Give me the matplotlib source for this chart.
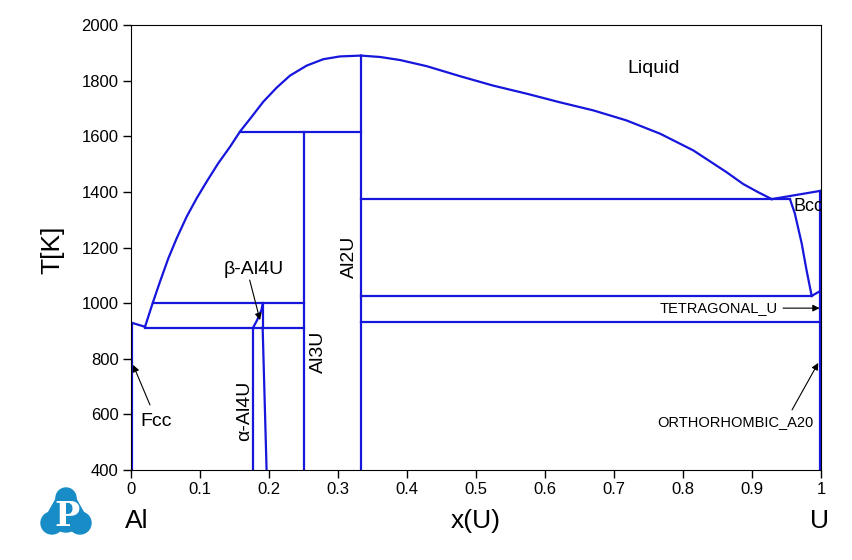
import matplotlib
matplotlib.use('Agg')
import matplotlib.pyplot as plt
from matplotlib.patches import Circle, Polygon

plt.rcParams['font.family'] = ['Liberation Sans', 'DejaVu Sans']

# 液相线 (Al 侧, 到 Al2U 熔点)
liq_left_x = [0.0203, 0.0314, 0.0420, 0.0541, 0.0662, 0.0807, 0.0952, 0.1097, 0.1265, 0.1435,
              0.158, 0.1749, 0.1917, 0.2112, 0.2304, 0.2546, 0.2787, 0.3029, 0.3333]
liq_left_T = [915, 1000, 1077, 1161, 1233, 1311, 1377, 1437, 1503, 1562,
              1617, 1670, 1724, 1775, 1818, 1854, 1877, 1887, 1890]
# 液相线 (U 侧)
liq_right_x = [0.3333, 0.361, 0.390, 0.4285, 0.4768, 0.525, 0.5735, 0.6217, 0.670, 0.718,
               0.767, 0.815, 0.863, 0.8874, 0.908, 0.9286]
liq_right_T = [1890, 1885, 1874, 1852, 1816, 1782, 1753, 1722, 1693, 1657,
               1609, 1549, 1471, 1428, 1400, 1374]
# Bcc 液相线 / 固相线
bcc_liq_x = [0.9286, 1.0]
bcc_liq_T = [1374, 1404]
bcc_sol_x = [0.955, 0.962, 0.972, 0.979, 0.9865]
bcc_sol_T = [1374, 1323, 1215, 1119, 1026]
# Fcc 端
fcc_liq_x = [0.0, 0.0203]
fcc_liq_T = [930, 915]
# β-Al4U 边界
beta_x = [0.177, 0.183, 0.189, 0.191]
beta_T = [912, 940, 975, 1000]
tet_x = [0.9865, 1.0]
tet_T = [1026, 1045]

# 水平线: (x起点, x终点, 温度)
horiz = [
    (0.158, 0.3333, 1617),
    (0.3333, 0.955, 1374),
    (0.0314, 0.25, 1000),
    (0.0203, 0.25, 912),
    (0.3333, 0.9865, 1026),
    (0.3333, 1.0, 932),
]
# 竖线: (x下端, x上端, T下端, T上端)
vert = [
    (0.001, 0.001, 400, 930),
    (0.177, 0.177, 400, 912),
    (0.1965, 0.1908, 400, 912),
    (0.1908, 0.1908, 912, 1000),
    (0.25, 0.25, 400, 1617),
    (0.3333, 0.3333, 400, 1890),
    (0.999, 0.999, 400, 1404),
]

xticks = [0, 0.1, 0.2, 0.3, 0.4, 0.5, 0.6, 0.7, 0.8, 0.9, 1]
xtick_labels = ['0', '0.1', '0.2', '0.3', '0.4', '0.5', '0.6', '0.7', '0.8', '0.9', '1']
yticks = [400, 600, 800, 1000, 1200, 1400, 1600, 1800, 2000]

line_color = '#1616dc'
lw = 1.6

fig = plt.figure(figsize=(8.52, 5.6), dpi=100)
ax = fig.add_axes([131 / 852, 90 / 560, 690 / 852, 445 / 560])

ax.plot(liq_left_x, liq_left_T, color=line_color, lw=lw)
ax.plot(liq_right_x, liq_right_T, color=line_color, lw=lw)
ax.plot(bcc_liq_x, bcc_liq_T, color=line_color, lw=lw)
ax.plot(bcc_sol_x, bcc_sol_T, color=line_color, lw=lw)
ax.plot(fcc_liq_x, fcc_liq_T, color=line_color, lw=lw)
ax.plot(beta_x, beta_T, color=line_color, lw=lw)
ax.plot(tet_x, tet_T, color=line_color, lw=lw)
for x0, x1, t in horiz:
    ax.plot([x0, x1], [t, t], color=line_color, lw=lw)
for x0, x1, t0, t1 in vert:
    ax.plot([x0, x1], [t0, t1], color=line_color, lw=lw)

ax.set_xlim(0, 1)
ax.set_ylim(400, 2000)
ax.set_xticks(xticks)
ax.set_xticklabels(xtick_labels)
ax.set_yticks(yticks)
ax.tick_params(direction='out', length=6, width=1, labelsize=12, pad=3)

# 相区标注
ax.text(0.757, 1845, 'Liquid', fontsize=14, ha='center', va='center')
ax.text(0.96, 1349, 'Bcc', fontsize=13, ha='left', va='center', clip_on=True)
ax.text(0.271, 824, 'Al3U', fontsize=14, ha='center', va='center', rotation=90)
ax.text(0.317, 1166, 'Al2U', fontsize=14, ha='center', va='center', rotation=90)
ax.text(0.165, 612, 'α-Al4U', fontsize=14, ha='center', va='center', rotation=90)

arrow = dict(arrowstyle='-|>', color='black', lw=0.8, mutation_scale=10, shrinkA=0, shrinkB=0)
ax.annotate('', xy=(0.003, 778), xytext=(0.0275, 634), arrowprops=arrow)
ax.text(0.036, 576, 'Fcc', fontsize=14, ha='center', va='center')
ax.annotate('', xy=(0.187, 939), xytext=(0.172, 1083), arrowprops=arrow)
ax.text(0.178, 1121, 'β-Al4U', fontsize=14, ha='center', va='center')
ax.annotate('', xy=(0.998, 982), xytext=(0.945, 982), arrowprops=arrow)
ax.text(0.851, 982, 'TETRAGONAL_U', fontsize=10.5, ha='center', va='center')
ax.annotate('', xy=(0.996, 785), xytext=(0.958, 616), arrowprops=arrow)
ax.text(0.876, 574, 'ORTHORHOMBIC_A20', fontsize=10.5, ha='center', va='center')

# 坐标轴标题
fig.text(52 / 852, 1 - 250 / 560, 'T[K]', fontsize=19, rotation=90, ha='center', va='center')
fig.text(476 / 852, 1 - 521 / 560, 'x(U)', fontsize=19, ha='center', va='center')
fig.text(137 / 852, 1 - 521 / 560, 'Al', fontsize=19, ha='center', va='center')
fig.text(820 / 852, 1 - 521 / 560, 'U', fontsize=19, ha='center', va='center')

# 标志
logo = fig.add_axes([38 / 852, 22 / 560, 57 / 852, 53 / 560])
logo.set_xlim(0, 57)
logo.set_ylim(0, 53)
logo.axis('off')
logo_color = '#178cc6'
logo.add_patch(Circle((28, 40), 10, color=logo_color))
logo.add_patch(Circle((14, 15), 11, color=logo_color))
logo.add_patch(Circle((42, 15), 11, color=logo_color))
logo.add_patch(Circle((28, 21), 15, color=logo_color))
logo.add_patch(Polygon([(22, 46), (34, 46), (52, 14), (4, 14)], color=logo_color))
logo.text(28.5, 21, 'P', fontsize=24, fontweight='bold', family='DejaVu Serif', color='white', ha='center', va='center')

plt.savefig('out.png', dpi=100)
